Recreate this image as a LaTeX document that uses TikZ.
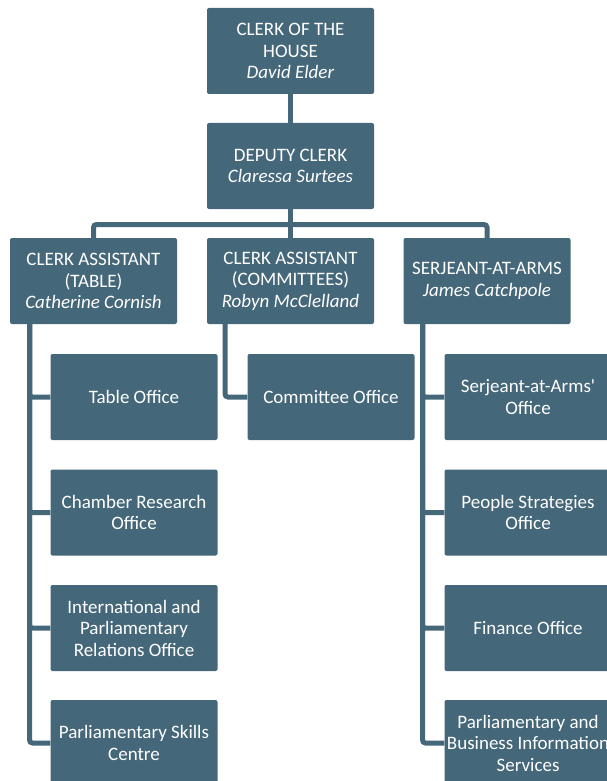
\documentclass[tikz,border=0pt]{standalone}
\usepackage{fontspec}
\setmainfont{Carlito}
\usepackage{tikz}
\usetikzlibrary{positioning}
\definecolor{boxblue}{RGB}{69,103,122}

\tikzset{
  orgbox/.style={fill=boxblue, rounded corners=2pt, text=white, align=center,
    minimum width=167pt, minimum height=86pt, inner sep=2pt,
    font=\fontsize{19}{21.5}\selectfont},
  conn/.style={draw=boxblue, line width=5pt, rounded corners=3pt}
}

\begin{document}
\begin{tikzpicture}[x=1pt, y=-1pt]
            \useasboundingbox (0,0) rectangle (607,781);

            \node[orgbox] (clerk) at (290.5,51) {CLERK OF THE\\HOUSE\\\textit{David Elder}};
            \node[orgbox] (deputy) at (290.5,166) {DEPUTY CLERK\\\textit{Claressa Surtees}};

            \node[orgbox] (catable) at (93.5,281) {CLERK ASSISTANT\\(TABLE)\\\textit{Catherine Cornish}};
            \node[orgbox] (cacomm) at (290.5,281) {CLERK ASSISTANT\\(COMMITTEES)\\\textit{Robyn McClelland}};
            \node[orgbox] (serjeant) at (487,281) {SERJEANT-AT-ARMS\\\textit{James Catchpole}};

            \node[orgbox] (tableoff) at (134,397) {Table Office};
            \node[orgbox] (chamber) at (134,512.5) {Chamber Research\\Office};
            \node[orgbox] (intl) at (134,628) {International and\\Parliamentary\\Relations Office};
            \node[orgbox] (skills) at (134,743) {Parliamentary Skills\\Centre};

            \node[orgbox] (commoff) at (331,397) {Committee Office};

            \node[orgbox] (saaoff) at (528,397) {Serjeant-at-Arms\textquotesingle\\Office};
            \node[orgbox] (people) at (528,512.5) {People Strategies\\Office};
            \node[orgbox] (finance) at (528,628) {Finance Office};
            \node[orgbox] (pbis) at (528,743) {Parliamentary and\\Business Information\\Services};

            \coordinate (bar) at (290.5,224.5);
            \draw[conn] (clerk) -- (deputy);
            \draw[conn] (deputy) -- (cacomm);
            \draw[conn] (catable) |- (bar) -| (serjeant);

            \foreach \sub in {tableoff, chamber, intl, skills}
                \draw[conn] ([xshift=-64pt]catable.south) |- (\sub);
            \draw[conn] ([xshift=-65.5pt]cacomm.south) |- (commoff);
            \foreach \sub in {saaoff, people, finance, pbis}
                \draw[conn] ([xshift=-64.5pt]serjeant.south) |- (\sub);

        \end{tikzpicture}
\end{document}
